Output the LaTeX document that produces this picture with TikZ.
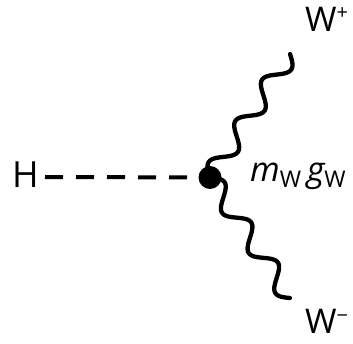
\documentclass[tikz,border=0pt]{standalone}
\usepackage{fontspec}
\setmainfont{Open Sans}
\usetikzlibrary{calc}
\begin{document}
\begin{tikzpicture}[x=1pt,y=-1pt,
  lbl/.style={inner sep=0pt, anchor=base west, font=\fontsize{34}{34}\selectfont},
  scalar/.style={line width=4pt, dash pattern=on 18pt off 13pt},
  % sine-shaped boson line: three full periods, amplitude 9.5pt
  boson/.style={line width=4.3pt, line cap=round, line join=round,
    to path={let \p1=(\tikztostart), \p2=(\tikztotarget),
      \n2={veclen(\x2-\x1,\y2-\y1)} in
      plot[variable=\t, domain=0:1, samples=160]
      ({\x1+\t*(\x2-\x1)-9.5*sin(\t*1080)*(\y2-\y1)/\n2},
       {\y1+\t*(\y2-\y1)+9.5*sin(\t*1080)*(\x2-\x1)/\n2})}},
  vertexdot/.style={circle, fill=black, minimum size=23pt, inner sep=0pt}]
  \useasboundingbox (0,0) rectangle (353,344);
  % particle labels
  \node[lbl, font=\fontsize{36}{36}\selectfont] (H) at (12,188) {H};
  \node[lbl] (Wp) at (305,32) {W\raisebox{12pt}{\fontsize{20}{20}\selectfont +}};
  \node[lbl] (Wm) at (305,334) {W\raisebox{12pt}{\fontsize{20}{20}\selectfont −}};
  % coupling
  \node[lbl, font=\fontsize{34}{34}\selectfont] (c) at (250,182)
    {\itshape m\upshape\raisebox{-6pt}{\fontsize{23}{23}\selectfont W}\,\itshape g\upshape\raisebox{-6pt}{\fontsize{23}{23}\selectfont W}};
  % vertex and line ends
  \coordinate (v) at (210,177.5);
  \coordinate (hs) at (45,177);
  \coordinate (wpe) at (290,54);
  \coordinate (wme) at (290,298);
  % propagators
  \draw[scalar] (hs) -- (v);
  \draw[boson] (v) to (wpe);
  \draw[boson] (v) to (wme);
  \node[vertexdot] (dot) at (v) {};
\end{tikzpicture}
\end{document}
